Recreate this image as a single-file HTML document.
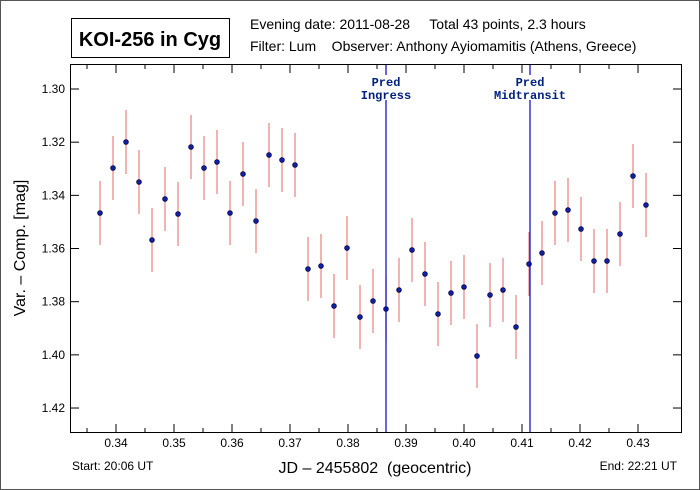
<!DOCTYPE html>
<html><head><style>body{margin:0;background:#fff}svg{display:block}</style></head><body>
<svg width="700" height="490" xmlns="http://www.w3.org/2000/svg" font-family="Liberation Sans, sans-serif">
<rect x="0.5" y="0.5" width="699" height="489" fill="#fff" stroke="#555"/>
<rect x="71.5" y="18.5" width="158" height="39" fill="#fff" stroke="#000"/>
<text x="150" y="46" text-anchor="middle" font-size="20" font-weight="bold">KOI-256 in Cyg</text>
<text x="250" y="29" font-size="14" xml:space="preserve">Evening date: 2011-08-28     Total 43 points, 2.3 hours</text>
<text x="250" y="51" font-size="14" xml:space="preserve">Filter: Lum    Observer: Anthony Ayiomamitis (Athens, Greece)</text>
<rect x="70.5" y="64.5" width="611" height="368" fill="none" stroke="#000"/>
<g id="d"></g>
<g stroke="#00c" stroke-width="1.2"><line x1="386" y1="100" x2="386" y2="432"/><line x1="530" y1="100" x2="530" y2="432"/>
<line x1="386" y1="65" x2="386" y2="75"/><line x1="530" y1="65" x2="530" y2="75"/></g>
<g font-family="Liberation Mono, monospace" font-size="12" fill="#002080" text-anchor="middle" font-weight="bold">
<text x="386" y="86">Pred</text><text x="386" y="99">Ingress</text>
<text x="530" y="86">Pred</text><text x="530" y="99">Midtransit</text></g>
<g id="ax" stroke="#000"></g>
<g font-size="12" text-anchor="end" id="yl"></g>
<g font-size="12" text-anchor="middle" id="xl"></g>
<text x="72" y="470" font-size="12">Start: 20:06 UT</text>
<text x="677" y="470" font-size="12" text-anchor="end">End: 22:21 UT</text>
<text x="375" y="473" font-size="16" text-anchor="middle" xml:space="preserve">JD – 2455802  (geocentric)</text>
<text transform="translate(25,248) rotate(-90)" font-size="16" text-anchor="middle">Var. – Comp. [mag]</text>
</svg>
<script>
var ns="http://www.w3.org/2000/svg";
function el(p,t,a,tx){var e=document.createElementNS(ns,t);for(var k in a)e.setAttribute(k,a[k]);if(tx)e.textContent=tx;document.getElementById(p).appendChild(e);}
var pts=[[100,213],[113,168],[126,142],[139,182],[152,240],[165,199],[178,214],[191,147],[204,168],[217,162],[230,213],[243,174],[256,221],[269,155],[282,160],[295,165],[308,269],[321,266],[334,306],[347,248],[360,317],[373,301],[386,309],[399,290],[412,250],[425,274],[438,314],[451,293],[464,287],[477,356],[490,295],[503,290],[516,327],[529,264],[542,253],[555,213],[568,210],[581,229],[594,261],[607,261],[620,234],[633,176],[646,205]];
pts.forEach(function(p){el("d","line",{x1:p[0],x2:p[0],y1:p[1]-32,y2:p[1]+32,stroke:"#e88080","stroke-width":1.2});});
pts.forEach(function(p){el("d","circle",{cx:p[0],cy:p[1],r:2.4,fill:"#1020a0",stroke:"#000040","stroke-width":0.7});});
for(var k=0;k<20;k++){var v=0.335+k*0.005;var x=116+(v-0.34)*5800;if(x<71||x>681)continue;var maj=(k%2==1);var L=maj?8:4;
el("ax","line",{x1:x,x2:x,y1:432,y2:432-L});el("ax","line",{x1:x,x2:x,y1:65,y2:65+L});
if(maj)el("xl","text",{x:x,y:447},v.toFixed(2));}
for(var j=0;j<7;j++){var m=1.30+j*0.02;var y=89+j*53.17;
el("ax","line",{x1:71,x2:79,y1:y,y2:y});el("ax","line",{x1:681,x2:673,y1:y,y2:y});
el("yl","text",{x:65,y:y+4},m.toFixed(2));}
</script>
</body></html>
